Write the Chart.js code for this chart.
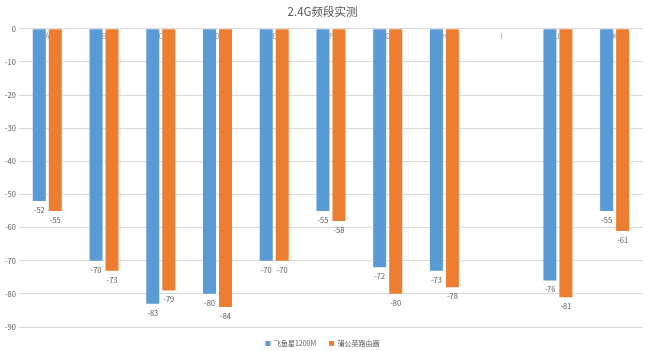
<!DOCTYPE html>
<html>
<head>
<meta charset="utf-8">
<script src="https://cdn.jsdelivr.net/npm/chart.js@4"></script>
<style>
  html, body { margin: 0; padding: 0; background: #fff; }
  #wrap { width: 649px; height: 351px; position: relative; }
</style>
</head>
<body>
<div id="wrap"><canvas id="chart"></canvas></div>
<script>
// 2.4G 频段实测数据 (dBm)
const categories = ["A", "B", "C", "D", "E", "F", "G", "H", "I", "J", "K"];
const feiyuxing = [-52, -70, -83, -80, -70, -55, -72, -73, null, -76, -55];
const pugongying = [-55, -73, -79, -84, -70, -58, -80, -78, null, -81, -61];
const yTicks = [0, -10, -20, -30, -40, -50, -60, -70, -80, -90];

const FONT = "'Microsoft YaHei', 'Noto Sans CJK SC', 'DejaVu Sans', sans-serif";

// 数值标签 + 顶部分类标签
const labelPlugin = {
    id: 'labelPlugin',
    afterDatasetsDraw(chart) {
        const ctx = chart.ctx;
        const x = chart.scales.x, y = chart.scales.y;
        ctx.save();
        ctx.font = "7.5px " + FONT;
        ctx.fillStyle = "#595959";
        ctx.textAlign = "center";
        ctx.textBaseline = "middle";
        chart.data.datasets.forEach((ds, di) => {
            const meta = chart.getDatasetMeta(di);
            meta.data.forEach((bar, i) => {
                const v = ds.data[i];
                if (v === null) return;
                ctx.fillText(String(v), bar.x, bar.y + 9);
            });
        });
        ctx.font = "7px " + FONT;
        ctx.fillStyle = "#8c8c8c";
        categories.forEach((c, i) => {
            ctx.fillText(c, x.getPixelForValue(i), y.getPixelForValue(0) + 8);
        });
        ctx.restore();
    }
};

new Chart(document.getElementById('chart'), {
    type: 'bar',
    data: {
        labels: categories,
        datasets: [
            { label: '飞鱼星1200M', data: feiyuxing, backgroundColor: '#5B9BD5',
              categoryPercentage: 0.564, barPercentage: 0.8125 },
            { label: '蒲公英路由器', data: pugongying, backgroundColor: '#ED7D31',
              categoryPercentage: 0.564, barPercentage: 0.8125 }
        ]
    },
    options: {
        responsive: true,
        maintainAspectRatio: false,
        animation: false,
        layout: { padding: { left: 2, right: 6, top: 5, bottom: -6 } },
        plugins: {
            title: {
                display: true,
                text: '2.4G频段实测',
                color: '#595959',
                font: { family: FONT, size: 11.5, weight: 'normal' },
                padding: { top: 0, bottom: 10 }
            },
            legend: {
                position: 'bottom',
                labels: {
                    color: '#595959',
                    font: { family: FONT, size: 7 },
                    boxWidth: 5, boxHeight: 5, padding: 13
                }
            },
            tooltip: { enabled: false }
        },
        scales: {
            x: { display: false },
            y: {
                min: -90, max: 0,
                afterBuildTicks(axis) { axis.ticks = yTicks.map(v => ({ value: v })); },
                grid: { color: '#d9d9d9', drawTicks: false },
                border: { display: false },
                ticks: { color: '#595959', font: { family: FONT, size: 7.5 }, padding: 3 }
            }
        }
    },
    plugins: [labelPlugin]
});
</script>
</body>
</html>
